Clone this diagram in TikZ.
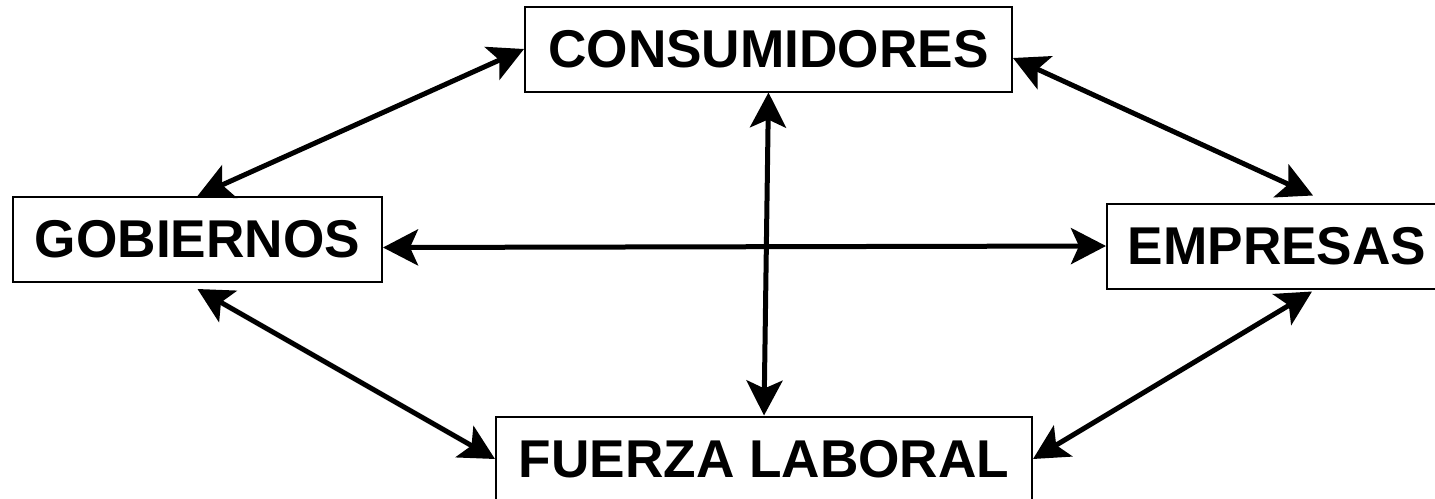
\documentclass[tikz,border=0pt]{standalone}
\usepackage{fontspec}
\setmainfont{Liberation Sans}
\usetikzlibrary{arrows.meta}

\begin{document}
\begin{tikzpicture}[x=0.5pt,y=-0.5pt,
  caja/.style={draw,line width=1pt,minimum height=42.5pt,inner sep=0pt,
    font=\fontsize{26.6}{30}\selectfont\bfseries},
  flecha/.style={line width=2.5pt,{Stealth[length=17.5pt,width=18pt,inset=4pt]}-{Stealth[length=17.5pt,width=18pt,inset=4pt]}}]
\useasboundingbox (0,0) rectangle (1435,498);
\node[caja,minimum width=243.5pt] (cons) at (768.5,49) {CONSUMIDORES};
\node[caja,minimum width=184.5pt] (gob) at (197.5,239.5) {GOBIERNOS};
\node[caja,minimum width=170pt] (emp) at (1277,246) {EMPRESAS};
\node[caja,minimum width=268pt] (fuerza) at (764,459) {FUERZA LABORAL};
\draw[flecha] (gob.north) -- (cons.west);
\draw[flecha] ([yshift=-4.5pt]cons.east) -- ([xshift=18pt,yshift=3.5pt]emp.north);
\draw[flecha] (cons.south) -- (fuerza.north);
\draw[flecha] ([yshift=-4pt]gob.east) -- (emp.west);
\draw[flecha] ([yshift=-3pt]gob.south) -- (fuerza.west);
\draw[flecha] ([xshift=17.5pt,yshift=-1pt]emp.south) -- (fuerza.east);
\end{tikzpicture}
\end{document}
